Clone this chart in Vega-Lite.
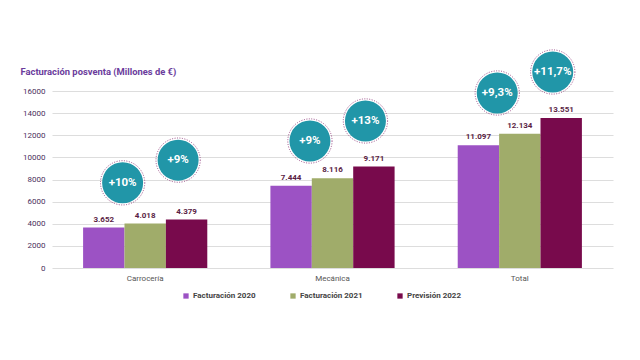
{
  "$schema": "https://vega.github.io/schema/vega-lite/v6.json",
  "width": 561,
  "height": 177,
  "autosize": "none",
  "padding": {"left": 52, "top": 91, "right": 27, "bottom": 92},
  "background": "white",
  "config": {
    "font": "Roboto",
    "view": {"stroke": null}
  },
  "datasets": {
    "bars": [
      {"category": "Carrocería", "series": "Facturación 2020", "value": 3652, "label": "3.652"},
      {"category": "Carrocería", "series": "Facturación 2021", "value": 4018, "label": "4.018"},
      {"category": "Carrocería", "series": "Previsión 2022", "value": 4379, "label": "4.379"},
      {"category": "Mecánica", "series": "Facturación 2020", "value": 7444, "label": "7.444"},
      {"category": "Mecánica", "series": "Facturación 2021", "value": 8116, "label": "8.116"},
      {"category": "Mecánica", "series": "Previsión 2022", "value": 9171, "label": "9.171"},
      {"category": "Total", "series": "Facturación 2020", "value": 11097, "label": "11.097"},
      {"category": "Total", "series": "Facturación 2021", "value": 12134, "label": "12.134"},
      {"category": "Total", "series": "Previsión 2022", "value": 13551, "label": "13.551"}
    ],
    "growth": [
      {"category": "Carrocería", "slot": "first", "value": 7700, "text": "+10%"},
      {"category": "Carrocería", "slot": "second", "value": 9750, "text": "+9%"},
      {"category": "Mecánica", "slot": "first", "value": 11480, "text": "+9%"},
      {"category": "Mecánica", "slot": "second", "value": 13290, "text": "+13%"},
      {"category": "Total", "slot": "first", "value": 15820, "text": "+9,3%"},
      {"category": "Total", "slot": "second", "value": 17720, "text": "+11,7%"}
    ]
  },
  "encoding": {
    "x": {
      "field": "category",
      "type": "nominal",
      "sort": ["Carrocería", "Mecánica", "Total"],
      "scale": {"paddingInner": 0.337, "paddingOuter": 0.166},
      "axis": {
        "title": null,
        "labelAngle": 0,
        "ticks": false,
        "domain": false,
        "labelPadding": 6,
        "labelFontSize": 8,
        "labelColor": "#555555",
        "labelFont": "Roboto"
      }
    },
    "y": {
      "field": "value",
      "type": "quantitative",
      "scale": {"domain": [0, 16000], "nice": false},
      "axis": {
        "title": "Facturación posventa (Millones de €)",
        "titleAngle": 0,
        "titleX": -32,
        "titleY": -20,
        "titleAlign": "left",
        "titleBaseline": "middle",
        "titleFontSize": 9.4,
        "titleFontWeight": "bold",
        "titleColor": "#6b3c9c",
        "titleFont": "Roboto",
        "values": [0, 2000, 4000, 6000, 8000, 10000, 12000, 14000, 16000],
        "labelOverlap": false,
        "format": "d",
        "ticks": false,
        "domain": false,
        "labelPadding": 7,
        "labelFontSize": 8,
        "labelColor": "#4b2f5c",
        "labelFont": "Roboto",
        "gridColor": "#dddddd",
        "gridWidth": 1
      }
    }
  },
  "layer": [
    {
      "data": {"name": "bars"},
      "encoding": {
        "xOffset": {
          "field": "series",
          "type": "nominal",
          "sort": ["Facturación 2020", "Facturación 2021", "Previsión 2022"],
          "scale": {"paddingInner": 0, "paddingOuter": 0}
        }
      },
      "layer": [
        {
          "mark": {"type": "bar"},
          "encoding": {
            "color": {
              "field": "series",
              "type": "nominal",
              "sort": ["Facturación 2020", "Facturación 2021", "Previsión 2022"],
              "scale": {
                "domain": ["Facturación 2020", "Facturación 2021", "Previsión 2022"],
                "range": ["#9c52c4", "#a0ac6a", "#780a4c"]
              },
              "legend": {
                "title": null,
                "orient": "none",
                "legendX": 130,
                "legendY": 201,
                "direction": "horizontal",
                "symbolType": "square",
                "symbolSize": 28,
                "symbolOffset": 0,
                "labelOffset": 3,
                "columnPadding": 33,
                "labelFontSize": 8,
                "labelFontWeight": "bold",
                "labelColor": "#444444",
                "labelFont": "Roboto",
                "padding": 0
              }
            }
          }
        },
        {
          "mark": {"type": "text", "baseline": "bottom", "dy": -4, "fontSize": 8, "fontWeight": "bold", "color": "#5a1e44", "font": "Roboto"},
          "encoding": {
            "text": {"field": "label", "type": "nominal"}
          }
        }
      ]
    },
    {
      "data": {"name": "growth"},
      "encoding": {
        "xOffset": {
          "field": "slot",
          "type": "nominal",
          "sort": ["first", "second"],
          "scale": {"type": "point", "range": [0, 124], "padding": 0.617, "align": 0.577}
        }
      },
      "layer": [
        {
          "mark": {"type": "point", "shape": "circle", "filled": false, "size": 1960, "stroke": "#9a4a86", "strokeWidth": 1, "strokeDash": [1, 1.5], "opacity": 1}
        },
        {
          "mark": {"type": "point", "shape": "circle", "filled": true, "size": 1681, "color": "#2196a8", "opacity": 1}
        },
        {
          "mark": {"type": "text", "fontSize": 11.5, "fontWeight": "bold", "color": "white", "font": "Roboto", "baseline": "middle"},
          "encoding": {"text": {"field": "text", "type": "nominal"}}
        }
      ]
    }
  ],
  "resolve": {"scale": {"xOffset": "independent"}}
}
